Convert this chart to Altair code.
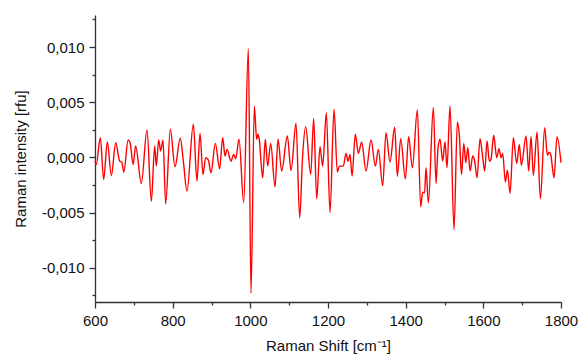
import altair as alt
import pandas as pd

shift = [600, 603.4, 613.7, 622.3, 631.8, 642.1, 653.3, 663.6, 668.8, 674.3, 685.2, 690.4, 698.2, 704.7,
         719.3, 733.9, 745.1, 753.7, 757.9, 764.0, 769.1, 775.1, 782.0, 794.0, 806.0, 819.7, 827.5, 836.9,
         853.2, 862.6, 870.4, 878.1, 885.0, 891.9, 898.7, 909.9, 921.0, 928.8, 934.8, 940.0, 950.2, 957.1,
         962.3, 970.9, 982.9, 994.9, 1001.7, 1010.3, 1016.3, 1019.7, 1023.0, 1031.8, 1038.6, 1044.7, 1052.4,
         1063.6, 1071.3, 1080.7, 1095.3, 1104.8, 1117.6, 1127.1, 1134.6, 1142.5, 1155.4, 1163.1, 1170.9,
         1179.4, 1186.3, 1195.7, 1205.2, 1215.5, 1224.1, 1229.3, 1239.5, 1246.4, 1251.6, 1256.7, 1261.9,
         1270.4, 1278.2, 1286.7, 1297.9, 1310.8, 1322.0, 1329.7, 1340.8, 1349.4, 1359.7, 1371.7, 1378.6,
         1387.2, 1399.2, 1407.8, 1417.2, 1430.1, 1438.7, 1443.9, 1448.7, 1452.4, 1458.4, 1471.3, 1478.2,
         1483.3, 1488.5, 1495.3, 1501.3, 1506.5, 1514.2, 1524.5, 1533.1, 1538.3, 1543.7, 1549.7, 1554.8,
         1560.0, 1566.0, 1572.6, 1577.8, 1583.8, 1591.5, 1597.5, 1603.5, 1609.5, 1615.5, 1619.8, 1626.7,
         1634.4, 1640.4, 1645.6, 1649.9, 1656.7, 1661.9, 1668.8, 1677.3, 1685.9, 1692.8, 1697.9, 1710.0,
         1716.8, 1722.8, 1728.8, 1738.3, 1746.9, 1758.0, 1764.9, 1769.2, 1773.5, 1782.0, 1789.7, 1800]

intensity_milli = [-0.34, -0.64, 1.79, -2.0, 1.39, -1.64, 1.33, -0.34, -0.42, -1.33, 1.58, 1.33, -0.64, 1.03,
                   -2.36, 2.48, -3.97, 1.03, -0.79, 1.58, 0.58, 1.58, -4.21, 2.55, -0.85, 1.76, -0.34, -3.06,
                   3.0, -2.15, 2.18, -1.55, -0.03, -0.24, -1.39, 1.27, -1.03, 1.79, 0.12, 0.73, -0.34, 0.27,
                   -0.12, 1.64, -4.12, 9.85, -12.3, 4.64, 1.64, 2.1, 1.64, -1.85, 1.64, -0.79, 1.27,
                   -2.67, 1.64, -1.24, 1.94, -1.2, 3.09, -5.48, 0.12, 2.79, -1.55, 3.52, -3.76,
                   0.97, -0.79, 4.06, -5.0, 4.36, -1.33, -0.79, -0.79, 0.36, -0.34, 0.27, -1.7,
                   2.1, 0.36, 1.39, -1.24, 1.58, -0.79, 0.73, -2.55, 2.24, -0.42, 2.73, -1.7,
                   1.7, -1.94, 1.88, -0.94, 4.3, -4.48, -3.15, -3.21, -0.94, -4.12, 4.52, -2.36,
                   0.88, 1.64, -0.34, 1.39, -0.94, 4.67, -6.55, 3.21, 1.94, -1.55, 1.27, -0.48,
                   0.88, -1.24, 0.12, -0.34, -1.85, 1.7, 0.27, -1.24, 1.48, -0.34, -0.18, 2.0,
                   -0.03, 0.79, -0.03, 0.36, -2.24, -1.15, -3.27, 1.79, -0.55, 1.18, -0.73, 1.94,
                   -1.24, 1.88, -1.64, 2.3, -3.76, 2.7, 0.18, 0.48, 0.27, -1.85, 1.88, -0.48]

x_ticks = [600, 700, 800, 900, 1000, 1100, 1200, 1300, 1400, 1500, 1600, 1700, 1800]
y_ticks = [-0.0125, -0.01, -0.0075, -0.005, -0.0025, 0.0, 0.0025, 0.005, 0.0075, 0.01, 0.0125]

df = pd.DataFrame({"shift": shift, "intensity": [v / 1000 for v in intensity_milli]})

font = "Liberation Sans"
y_major = "abs(datum.value*200 - round(datum.value*200)) < 0.001"
x_major = "datum.value % 200 == 0"

chart = alt.Chart(df).mark_line(color="#ff0000", strokeWidth=1.4, interpolate="monotone").encode(
    x=alt.X("shift:Q",
            scale=alt.Scale(domain=[600, 1800], nice=False, zero=False),
            axis=alt.Axis(title="Raman Shift [cm⁻¹]", values=x_ticks,
                          labelExpr=f"{x_major} ? format(datum.value, 'd') : ''",
                          tickSize={"condition": {"test": x_major, "value": 6}, "value": 3},
                          labelOverlap=False, labelFlush=False, labelPadding=5,
                          titlePadding=10, grid=False)),
    y=alt.Y("intensity:Q",
            scale=alt.Scale(domain=[-0.0131, 0.0129], nice=False, zero=False),
            axis=alt.Axis(title="Raman intensity [rfu]", values=y_ticks,
                          labelExpr=f"{y_major} ? replace(replace(format(datum.value, '.3f'), '.', ','), '\u2212', '-') : ''",
                          tickSize={"condition": {"test": y_major, "value": 6}, "value": 3},
                          labelOverlap=False, labelFlush=False, labelPadding=5,
                          titlePadding=13, grid=False)),
).properties(
    width=466, height=287, autosize="none",
    padding={"left": 95, "top": 15, "right": 18, "bottom": 56},
).configure_view(stroke=None).configure_axis(
    domainColor="#333333", tickColor="#333333", domainWidth=1.3, tickWidth=1.3,
    labelFont=font, titleFont=font, labelFontSize=15, titleFontSize=15,
    labelColor="#111111", titleColor="#111111", titleFontWeight="normal",
)

chart.save("out.html", embed_options={"renderer": "svg", "actions": False})
